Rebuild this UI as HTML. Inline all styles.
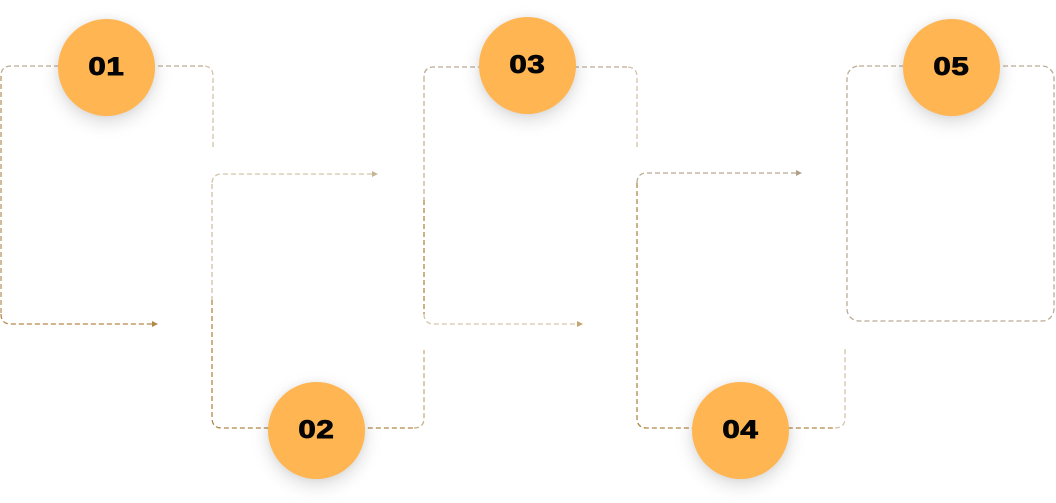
<!DOCTYPE html>
<html>
<head>
<meta charset="utf-8">
<style>
  html, body { margin: 0; padding: 0; background: #ffffff; }
  #wrap { position: relative; width: 1056px; height: 503px; overflow: hidden; background: #fff; }
  svg { position: absolute; left: 0; top: 0; }
  .c {
    position: absolute; width: 97px; height: 97px; border-radius: 50%;
    background: #FFB552;
    box-shadow: 0 6px 18px rgba(0,0,0,0.15), 0 0 8px rgba(0,0,0,0.05);
    display: flex; align-items: center; justify-content: center;
  }
  .c span {
    font-family: "Liberation Sans", "DejaVu Sans", sans-serif;
    font-weight: 700; font-size: 25px; color: #050505;
    -webkit-text-stroke: 0.9px #050505;
    display: inline-block; transform: scaleX(1.25); letter-spacing: 0.5px;
    line-height: 1; margin-top: -1px;
  }
</style>
</head>
<body>
<div id="wrap">
<svg width="1056" height="503" viewBox="0 0 1056 503">
  <g fill="none" stroke-width="1.3" stroke-dasharray="5 3">
    <!-- Box 1 -->
    <path d="M213 147 V76 Q213 66 203 66" stroke="#d3c3a8"/>
    <path d="M203 66 H11 Q1 66 1 76" stroke="#bbac95"/>
    <path d="M1 76 V314" stroke="#b7975f"/>
    <path d="M1 314 Q1 324 11 324 H152" stroke="#b38747"/>
    <!-- Box 2 -->
    <path d="M372 174 H222 Q212 174 212 184" stroke="#d3c3a8"/>
    <path d="M212 184 V300" stroke="#d0c0a4"/>
    <path d="M212 300 V418 Q212 428 222 428 H414" stroke="#b38747"/>
    <path d="M414 428 Q424 428 424 418 V350" stroke="#c6ad85"/>
    <!-- Box 3 -->
    <path d="M637 147 V77 Q637 67 627 67" stroke="#d3c3a8"/>
    <path d="M627 67 H434 Q424 67 424 77" stroke="#bbac95"/>
    <path d="M424 77 V200" stroke="#c4b396"/>
    <path d="M424 200 V314" stroke="#b38747"/>
    <path d="M424 314 Q424 324 434 324 H577" stroke="#d5c5aa"/>
    <!-- Box 4 -->
    <path d="M796 173 H647 Q637 173 637 183" stroke="#b8a991"/>
    <path d="M637 183 V418 Q637 428 647 428 H835" stroke="#b38747"/>
    <path d="M835 428 Q845 428 845 418 V348" stroke="#d3c3a8"/>
    <!-- Box 5 -->
    <rect x="847" y="66" width="207" height="255" rx="12" ry="12" stroke="#bbac95"/>
  </g>
  <!-- arrowheads -->
  <polygon points="152,321 158,324 152,327" fill="#b38747"/>
  <polygon points="372,171 378,174 372,177" fill="#c6b495"/>
  <polygon points="577,321 583,324 577,327" fill="#c4a371"/>
  <polygon points="796,170 802,173 796,176" fill="#b0a088"/>
</svg>

<div class="c" style="left:58px; top:19px;"><span>01</span></div>
<div class="c" style="left:268px; top:382px;"><span>02</span></div>
<div class="c" style="left:479px; top:17px;"><span>03</span></div>
<div class="c" style="left:692px; top:382px;"><span>04</span></div>
<div class="c" style="left:903px; top:19px;"><span>05</span></div>
</div>
</body>
</html>
